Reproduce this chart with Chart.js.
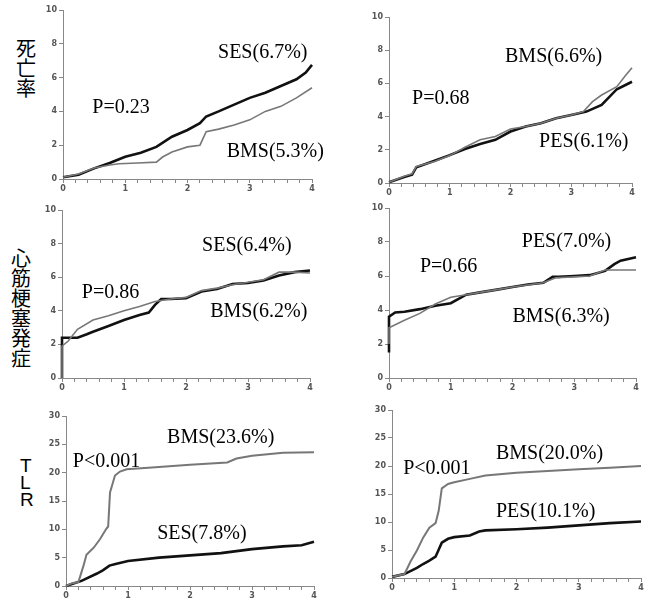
<!DOCTYPE html>
<html>
<head>
<meta charset="utf-8">
<script src="https://cdn.jsdelivr.net/npm/chart.js@4"></script>
<style>
  body { margin: 0; background: #fff; overflow: hidden; }
  #wrap { position: relative; width: 650px; height: 607px; }
  canvas { position: absolute; }
  .rowlabel { position: absolute; font-family: "Noto Sans CJK JP", sans-serif; font-size: 20px; line-height: 20px; color: #000; }
  .tlr { font-family: "Liberation Sans", sans-serif; font-size: 19px; line-height: 17px; }
</style>
</head>
<body>
<div id="wrap">
  <div class="rowlabel" style="left:16px; top:38px;">死<br>亡<br>率</div>
  <div class="rowlabel" style="left:11px; top:248px;">心<br>筋<br>梗<br>塞<br>発<br>症</div>
  <div class="rowlabel tlr" style="left:20px; top:457px;">T<br>L<br>R</div>
</div>
<script>
// ---- 死亡率 (SES vs BMS)
const d1SesT = [0, 0.25, 0.5, 0.75, 1, 1.25, 1.5, 1.75, 2, 2.2, 2.3, 2.5, 2.75, 3, 3.25, 3.5, 3.75, 3.9, 4];
const d1SesY = [0.1, 0.25, 0.63, 0.95, 1.32, 1.55, 1.9, 2.5, 2.9, 3.3, 3.7, 4.0, 4.4, 4.8, 5.1, 5.5, 5.9, 6.3, 6.75];
const d1BmsT = [0, 0.25, 0.5, 0.75, 0.9, 1.2, 1.5, 1.6, 1.75, 2, 2.2, 2.3, 2.5, 2.75, 3, 3.25, 3.5, 3.75, 4];
const d1BmsY = [0.1, 0.3, 0.65, 0.83, 0.9, 0.95, 1.0, 1.3, 1.6, 1.9, 2.0, 2.8, 2.95, 3.2, 3.5, 4.0, 4.3, 4.8, 5.4];

// ---- 死亡率 (PES vs BMS)
const d2PesT = [0, 0.25, 0.38, 0.45, 0.75, 1, 1.25, 1.5, 1.75, 2, 2.25, 2.5, 2.75, 3, 3.25, 3.5, 3.75, 4];
const d2PesY = [0.05, 0.36, 0.5, 0.95, 1.34, 1.68, 2.05, 2.35, 2.6, 3.1, 3.4, 3.6, 3.9, 4.1, 4.3, 4.7, 5.65, 6.1];
const d2BmsT = [0, 0.25, 0.38, 0.45, 0.75, 1, 1.25, 1.5, 1.75, 2, 2.25, 2.5, 2.75, 3, 3.2, 3.35, 3.5, 3.75, 3.9, 4];
const d2BmsY = [0.05, 0.4, 0.55, 1.0, 1.3, 1.65, 2.15, 2.6, 2.8, 3.25, 3.4, 3.6, 3.9, 4.1, 4.3, 4.9, 5.3, 5.8, 6.5, 6.95];

// ---- 心筋梗塞発症 (SES vs BMS)
const d3SesT = [0, 0, 0.25, 0.4, 0.5, 0.75, 1, 1.25, 1.4, 1.5, 1.6, 1.75, 2, 2.25, 2.5, 2.75, 3, 3.25, 3.5, 3.75, 4];
const d3SesY = [0, 2.4, 2.4, 2.6, 2.75, 3.1, 3.45, 3.75, 3.9, 4.35, 4.7, 4.7, 4.75, 5.15, 5.3, 5.6, 5.65, 5.8, 6.1, 6.3, 6.4];
const d3BmsT = [0, 0, 0.1, 0.25, 0.5, 0.75, 1, 1.25, 1.5, 1.75, 2, 2.25, 2.5, 2.75, 3, 3.25, 3.5, 3.75, 4];
const d3BmsY = [0, 1.9, 2.2, 2.9, 3.45, 3.7, 4.0, 4.25, 4.55, 4.7, 4.8, 5.2, 5.35, 5.55, 5.7, 5.85, 6.3, 6.3, 6.25];

// ---- 心筋梗塞発症 (PES vs BMS)
const d4PesT = [0, 0, 0.1, 0.25, 0.5, 0.75, 1, 1.25, 1.5, 1.75, 2, 2.25, 2.5, 2.65, 2.75, 3, 3.25, 3.5, 3.65, 3.75, 4];
const d4PesY = [1.5, 3.6, 3.85, 3.9, 4.05, 4.25, 4.4, 4.9, 5.05, 5.2, 5.35, 5.5, 5.6, 5.95, 5.95, 6.0, 6.05, 6.3, 6.7, 6.9, 7.1];
const d4BmsT = [0, 0, 0.25, 0.5, 0.75, 1, 1.25, 1.5, 1.75, 2, 2.5, 2.7, 3, 3.25, 3.5, 4];
const d4BmsY = [2.0, 2.95, 3.4, 3.8, 4.35, 4.75, 4.9, 5.05, 5.2, 5.35, 5.6, 5.9, 5.95, 6.0, 6.35, 6.35];

// ---- TLR (SES vs BMS)
const d5BmsT = [0, 0.1, 0.2, 0.28, 0.33, 0.45, 0.55, 0.65, 0.68, 0.71, 0.79, 0.87, 0.98, 1.5, 2, 2.6, 2.75, 3, 3.5, 4];
const d5BmsY = [0, 0.5, 0.7, 3.5, 5.5, 6.8, 8.3, 10.1, 10.5, 16.5, 19.5, 20.2, 20.6, 21.0, 21.4, 21.8, 22.5, 23.0, 23.5, 23.6];
const d5SesT = [0, 0.25, 0.5, 0.6, 0.7, 0.8, 1, 1.5, 2, 2.5, 3, 3.5, 3.8, 4];
const d5SesY = [0, 0.9, 2.2, 2.8, 3.6, 3.9, 4.4, 5.0, 5.4, 5.8, 6.5, 7.0, 7.2, 7.8];

// ---- TLR (PES vs BMS)
const d6BmsT = [0, 0.2, 0.3, 0.4, 0.5, 0.6, 0.7, 0.75, 0.8, 0.9, 1, 1.25, 1.5, 2, 2.5, 3, 3.5, 4];
const d6BmsY = [0.2, 0.7, 3, 4.9, 7.2, 9, 9.8, 12, 16, 16.8, 17.1, 17.7, 18.3, 18.8, 19.1, 19.4, 19.7, 20.0];
const d6PesT = [0, 0.2, 0.4, 0.5, 0.6, 0.7, 0.8, 0.9, 1, 1.25, 1.4, 1.5, 2, 2.5, 3, 3.5, 4];
const d6PesY = [0.2, 0.7, 1.8, 2.5, 3.1, 3.8, 6.3, 7.0, 7.3, 7.6, 8.3, 8.5, 8.7, 9.0, 9.4, 9.8, 10.1];

const xTicks = [0, 1, 2, 3, 4];

const BLACK = '#111';
const GRAY = '#777';

function pts(t, v) {
    return t.map((x, i) => ({ x: x, y: v[i] }));
}

// text labels placed in data coordinates
const notesPlugin = {
    id: 'notes',
    afterDatasetsDraw(chart, args, opts) {
        const ctx = chart.ctx;
        const xs = chart.scales.x, ys = chart.scales.y;
        ctx.save();
        ctx.font = '20px "Liberation Serif", "Times New Roman", serif';
        ctx.fillStyle = '#000';
        ctx.textAlign = 'left';
        ctx.textBaseline = 'middle';
        (opts.items || []).forEach(n => {
            ctx.fillText(n.text, xs.getPixelForValue(n.x), ys.getPixelForValue(n.y));
        });
        ctx.restore();
    }
};

function makePanel(p) {
    const yW = 33, padTop = 8, xH = 20;
    const padRight = Math.min(18, 650 - p.right);
    const c = document.createElement('canvas');
    const left = p.left - yW, top = p.top - padTop;
    const w = p.right - left + padRight;
    const h = p.bottom - top + xH;
    c.style.left = left + 'px';
    c.style.top = top + 'px';
    c.style.width = w + 'px';
    c.style.height = h + 'px';
    c.width = w; c.height = h;
    document.getElementById('wrap').appendChild(c);

    const tickFont = { family: '"DejaVu Sans", sans-serif', size: 8, weight: 'bold' };

    new Chart(c, {
        type: 'line',
        data: {
            datasets: p.series.map(s => ({
                data: pts(s.t, s.v),
                borderColor: s.color,
                borderWidth: s.width,
                pointRadius: 0,
                tension: 0,
                fill: false,
                clip: false
            }))
        },
        options: {
            responsive: false,
            animation: false,
            events: [],
            layout: { padding: { top: padTop, right: padRight, left: 0, bottom: 0 } },
            plugins: {
                legend: { display: false },
                tooltip: { enabled: false },
                notes: { items: p.notes }
            },
            scales: {
                x: {
                    type: 'linear',
                    min: 0, max: 4,
                    afterFit: s => { s.height = xH; },
                    border: { display: true, color: '#888', width: 1 },
                    grid: { drawOnChartArea: false, drawTicks: true, tickLength: 4, color: '#888' },
                    afterBuildTicks: s => {
                        const arr = [];
                        for (let i = 0; i <= 20; i++) arr.push({ value: i / 5 });
                        s.ticks = arr;
                    },
                    ticks: {
                        autoSkip: false,
                        maxRotation: 0,
                        padding: 1,
                        color: '#555',
                        font: tickFont,
                        callback: v => (xTicks.includes(Math.round(v * 5) / 5) ? String(Math.round(v)) : '')
                    }
                },
                y: {
                    min: 0, max: p.ymax,
                    afterFit: s => { s.width = yW; },
                    border: { display: true, color: '#888', width: 1 },
                    grid: { drawOnChartArea: false, drawTicks: true, tickLength: 4, color: '#888' },
                    ticks: {
                        stepSize: p.ystep,
                        padding: 2,
                        color: '#555',
                        font: tickFont
                    }
                }
            }
        },
        plugins: [notesPlugin]
    });
}

const panels = [
    { left: 63, top: 10, right: 312, bottom: 179, ymax: 10, ystep: 2,
      series: [
          { t: d1BmsT, v: d1BmsY, color: GRAY, width: 1.6 },
          { t: d1SesT, v: d1SesY, color: BLACK, width: 2.6 }
      ],
      notes: [
          { text: 'P=0.23', x: 0.47, y: 4.2 },
          { text: 'SES(6.7%)', x: 2.49, y: 7.5 },
          { text: 'BMS(5.3%)', x: 2.63, y: 1.6 }
      ] },
    { left: 389, top: 17, right: 632, bottom: 183, ymax: 10, ystep: 2,
      series: [
          { t: d2BmsT, v: d2BmsY, color: GRAY, width: 1.6 },
          { t: d2PesT, v: d2PesY, color: BLACK, width: 2.6 }
      ],
      notes: [
          { text: 'P=0.68', x: 0.38, y: 5.1 },
          { text: 'BMS(6.6%)', x: 1.91, y: 7.6 },
          { text: 'PES(6.1%)', x: 2.47, y: 2.5 }
      ] },
    { left: 62, top: 210, right: 310, bottom: 378, ymax: 10, ystep: 2,
      series: [
          { t: d3BmsT, v: d3BmsY, color: GRAY, width: 1.6 },
          { t: d3SesT, v: d3SesY, color: BLACK, width: 2.6 }
      ],
      notes: [
          { text: 'P=0.86', x: 0.32, y: 5.06 },
          { text: 'SES(6.4%)', x: 2.26, y: 7.86 },
          { text: 'BMS(6.2%)', x: 2.39, y: 3.93 }
      ] },
    { left: 389, top: 208, right: 636, bottom: 378, ymax: 10, ystep: 2,
      series: [
          { t: d4BmsT, v: d4BmsY, color: GRAY, width: 1.6 },
          { t: d4PesT, v: d4PesY, color: BLACK, width: 2.6 }
      ],
      notes: [
          { text: 'P=0.66', x: 0.5, y: 6.53 },
          { text: 'PES(7.0%)', x: 2.15, y: 8.0 },
          { text: 'BMS(6.3%)', x: 2.0, y: 3.59 }
      ] },
    { left: 66, top: 416, right: 314, bottom: 586, ymax: 30, ystep: 5,
      series: [
          { t: d5BmsT, v: d5BmsY, color: GRAY, width: 2 },
          { t: d5SesT, v: d5SesY, color: BLACK, width: 2.6 }
      ],
      notes: [
          { text: 'P<0.001', x: 0.11, y: 22.0 },
          { text: 'BMS(23.6%)', x: 1.63, y: 26.1 },
          { text: 'SES(7.8%)', x: 1.47, y: 9.2 }
      ] },
    { left: 392, top: 410, right: 641, bottom: 578, ymax: 30, ystep: 5,
      series: [
          { t: d6BmsT, v: d6BmsY, color: GRAY, width: 2 },
          { t: d6PesT, v: d6PesY, color: BLACK, width: 2.6 }
      ],
      notes: [
          { text: 'P<0.001', x: 0.18, y: 19.5 },
          { text: 'BMS(20.0%)', x: 1.67, y: 22.1 },
          { text: 'PES(10.1%)', x: 1.67, y: 11.8 }
      ] }
];

panels.forEach(makePanel);
</script>
</body>
</html>
